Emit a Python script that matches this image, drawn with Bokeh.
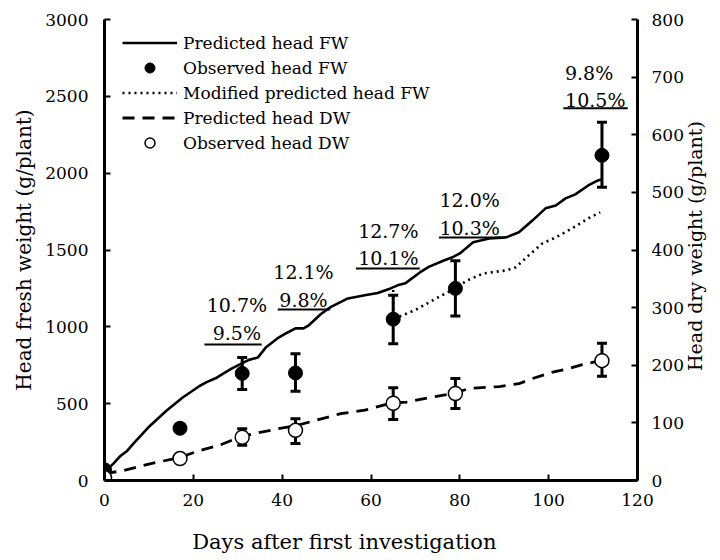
import math
from bokeh.plotting import figure
from bokeh.models import (Range1d, LinearAxis, Whisker, ColumnDataSource, Legend,
                          LegendItem, TeeHead, FixedTicker)
from bokeh.embed import file_html
from bokeh.resources import INLINE
from bokeh.core.properties import value

FONT = "DejaVu Serif"

# ---- data ----
pred_fw_day = [0, 2, 3.6, 5, 6.5, 10.2, 14, 17.6, 21.4, 23, 25, 27, 28.7, 32.5, 34.5, 36.3,
               39.2, 41, 43, 44.8, 46, 48.8, 51, 54.8, 58.6, 61.5, 64.4, 66, 67.7, 71, 73,
               76.4, 78.5, 80, 83, 86.6, 90.4, 93.3, 96.4, 99.3, 101.6, 103.8, 106, 108.9,
               111.1, 112]
pred_fw = [55, 110, 160, 190, 240, 355, 455, 540, 615, 640, 665, 700, 730, 785, 800, 865,
           930, 960, 990, 990, 1010, 1085, 1130, 1185, 1205, 1220, 1250, 1270, 1283, 1354, 1390,
           1432, 1455, 1478, 1550, 1575, 1582, 1615, 1693, 1771, 1790, 1836, 1862, 1920,
           1953, 1960]

mod_fw_day = [65, 65, 70, 75, 79, 81.5, 85.3, 90.4, 92.6, 95.5, 98.6, 101.6, 105.3, 108.9, 111.6]
mod_fw = [1240, 1050, 1110, 1190, 1250, 1300, 1348, 1367, 1387, 1465, 1543, 1582, 1641, 1706, 1745]

pred_dw_day = [0, 4.2, 10.2, 17, 21.4, 25.8, 30.3, 34.7, 39.2, 43, 47.4, 53.2, 58.6, 64.4, 68,
               73.3, 78.6, 82.2, 88.9, 93.3, 96.4, 100.9, 103.8, 107.6, 111.6]
pred_dw = [12, 17, 29, 40, 52, 61, 75, 83, 90, 95, 104, 116, 122, 134, 136,
           144, 151, 160, 163, 168, 177, 188, 193, 201, 208]

obs_day = [0, 17, 31, 43, 65, 79, 112]
obs_fw = [70, 340, 697, 700, 1050, 1250, 2116]
obs_dw = [5, 38, 75, 87, 134, 151, 208]

err_day = [31, 43, 65, 79, 112]
fw_lo = [592, 580, 890, 1070, 1908]
fw_hi = [800, 825, 1205, 1430, 2331]
dw_lo = [61, 64, 106, 125, 181]
dw_hi = [90, 107, 161, 177, 238]

ann_top = ["10.7%", "12.1%", "12.7%", "12.0%", "9.8%"]
ann_bot = ["9.5%", "9.8%", "10.1%", "10.3%", "10.5%"]
ann_x_top = [29.8, 44.8, 63.9, 82.2, 109.1]
ann_x_bot = [29.8, 44.8, 63.9, 82.2, 110.5]
ann_y_top = [1139, 1354, 1621, 1823, 2650]
ann_y_bot = [957, 1172, 1445, 1641, 2474]
ul_x0 = [22.5, 39, 56.6, 75.3, 103.3]
ul_x1 = [35.4, 50.8, 71, 89.3, 117.8]
ul_y = [885, 1113, 1380, 1582, 2422]

x_ticks = [0, 20, 40, 60, 80, 100, 120]
fw_ticks = [0, 500, 1000, 1500, 2000, 2500, 3000]
dw_ticks = [0, 100, 200, 300, 400, 500, 600, 700, 800]

x_title = "Days after first investigation"
x_title_at = 54          # position of the x title along the day axis
dw_title = "Head dry weight (g/plant)"
dw_title_at = 190        # start of the right title along the DW axis

# ---- main figure ----
p = figure(width=720, height=560, x_range=Range1d(0, 120), y_range=Range1d(0, 3000),
           output_backend="svg", toolbar_location=None,
           min_border_left=104, min_border_right=77, min_border_top=19, min_border_bottom=80)
p.extra_y_ranges = {"dw": Range1d(0, 800)}
p.outline_line_color = None
p.xgrid.visible = False
p.ygrid.visible = False
p.background_fill_color = "white"
p.border_fill_color = "white"

ax_r = LinearAxis(y_range_name="dw")
p.add_layout(ax_r, "right")


def style_axis(ax, ticks):
    ax.ticker = FixedTicker(ticks=ticks)
    ax.axis_line_width = 3
    ax.axis_line_color = "black"
    ax.major_tick_line_width = 2
    ax.major_tick_line_color = "black"
    ax.major_tick_in = 6
    ax.major_tick_out = 0
    ax.minor_tick_in = 0
    ax.minor_tick_out = 0
    ax.minor_tick_line_color = None
    ax.major_label_text_font = FONT
    ax.major_label_text_font_size = "17px"
    ax.major_label_text_color = "black"
    ax.axis_label_text_font = FONT
    ax.axis_label_text_font_size = "20px"
    ax.axis_label_text_font_style = "normal"
    ax.axis_label_text_color = "black"


style_axis(p.xaxis[0], x_ticks)
style_axis(p.yaxis[0], fw_ticks)
style_axis(ax_r, dw_ticks)

p.xaxis[0].major_label_standoff = 13
p.yaxis[0].axis_label = "Head fresh weight (g/plant)"
p.yaxis[0].major_label_standoff = 16
p.yaxis[0].axis_label_standoff = 6
ax_r.major_label_standoff = 14


def title_axis(ax, tick, text, size, standoff):
    ax.ticker = FixedTicker(ticks=[tick])
    ax.major_label_overrides = {tick: text}
    ax.axis_line_color = None
    ax.major_tick_line_color = None
    ax.minor_tick_line_color = None
    ax.major_tick_in = 0
    ax.major_tick_out = 0
    ax.minor_tick_in = 0
    ax.minor_tick_out = 0
    ax.major_label_standoff = standoff
    ax.major_label_text_font = FONT
    ax.major_label_text_font_size = size
    ax.major_label_text_color = "black"


# x-axis title, drawn as the single label of an extra bottom axis
ax_xt = LinearAxis()
title_axis(ax_xt, x_title_at, x_title, "21px", 21)
p.add_layout(ax_xt, "below")

# right-hand title, drawn as the single label of an extra right axis (reads bottom to top)
ax_rt = LinearAxis(y_range_name="dw")
title_axis(ax_rt, dw_title_at, dw_title, "19px", 9)
ax_rt.major_label_orientation = math.pi / 2
p.add_layout(ax_rt, "right")

# ---- lines ----
r_pred = p.line(pred_fw_day, pred_fw, line_color="black", line_width=2.6)
r_mod = p.line(mod_fw_day, mod_fw, line_color="black", line_width=2.6, line_dash="2 4")
r_pred_dw = p.line(pred_dw_day, pred_dw, line_color="black", line_width=2.8,
                   line_dash="12 8", y_range_name="dw")

# ---- error bars ----
src_fw_err = ColumnDataSource(dict(x=err_day, lo=fw_lo, hi=fw_hi))
src_dw_err = ColumnDataSource(dict(x=err_day, lo=dw_lo, hi=dw_hi))
for src, rng in ((src_fw_err, "default"), (src_dw_err, "dw")):
    w = Whisker(source=src, base="x", lower="lo", upper="hi", line_width=3, line_color="black",
                upper_head=TeeHead(size=10, line_width=3, line_color="black"),
                lower_head=TeeHead(size=10, line_width=3, line_color="black"),
                y_range_name=rng)
    p.add_layout(w)

# ---- markers ----
r_obs_fw = p.scatter(obs_day, obs_fw, size=14, fill_color="black", line_color="black")
r_obs_dw = p.scatter(obs_day, obs_dw, size=14, fill_color="white", line_color="black",
                     line_width=1.5, y_range_name="dw")

# ---- annotations ----
p.text(x=ann_x_top, y=ann_y_top, text=ann_top, text_font=value(FONT), text_font_size="19px",
       text_align="center", text_baseline="middle", text_color="black")
p.text(x=ann_x_bot, y=ann_y_bot, text=ann_bot, text_font=value(FONT), text_font_size="19px",
       text_align="center", text_baseline="middle", text_color="black")
p.segment(x0=ul_x0, y0=ul_y, x1=ul_x1, y1=ul_y, line_color="black", line_width=2)

# ---- legend ----
legend = Legend(items=[
    LegendItem(label="Predicted head FW", renderers=[r_pred]),
    LegendItem(label="Observed head FW", renderers=[r_obs_fw]),
    LegendItem(label="Modified predicted head FW", renderers=[r_mod]),
    LegendItem(label="Predicted head DW", renderers=[r_pred_dw]),
    LegendItem(label="Observed head DW", renderers=[r_obs_dw]),
], location=(18, 325), padding=0, margin=0, spacing=0, glyph_width=55, glyph_height=25,
    label_height=20, label_standoff=6, border_line_alpha=0, background_fill_alpha=0,
    label_text_font=FONT, label_text_font_size="17px", label_text_color="black")
p.add_layout(legend)

open("out.html", "w").write(file_html(p, INLINE))
